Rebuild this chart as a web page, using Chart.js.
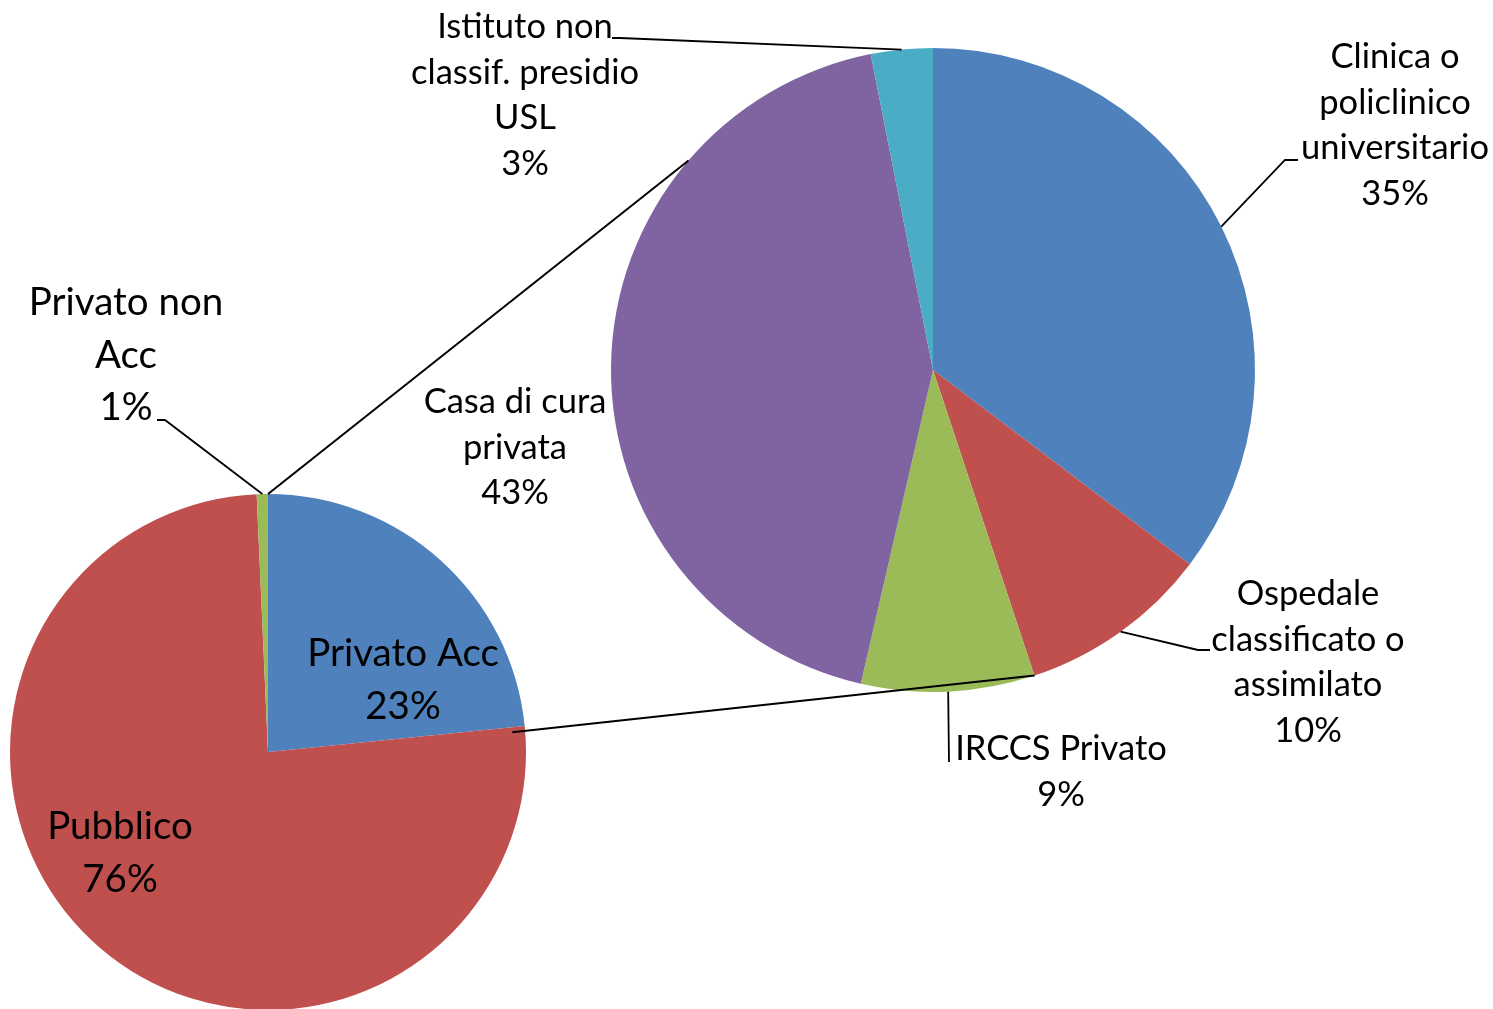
<!DOCTYPE html>
<html>
<head>
<meta charset="utf-8">
<script src="https://cdn.jsdelivr.net/npm/chart.js@4"></script>
<style>
  html, body { margin: 0; padding: 0; background: #fff; overflow: hidden; }
  #wrap { position: relative; width: 1493px; height: 1009px; overflow: hidden; }
  canvas { position: absolute; left: 0; top: 0; }
</style>
</head>
<body>
<div id="wrap">
  <canvas id="main" width="1493" height="1040"></canvas>
  <canvas id="detail" width="1493" height="1040"></canvas>
</div>
<script>
// main pie
const mainLabels = [['Privato Acc'], ['Pubblico'], ['Privato non', 'Acc']];
const mainValues = [23.4, 75.9, 0.7];
const mainColors = ['#4F81BD', '#C0504D', '#9BBB59'];

// secondary pie (breakdown of Privato Acc)
const detailLabels = [
  ['Clinica o', 'policlinico', 'universitario'],
  ['Ospedale', 'classificato o', 'assimilato'],
  ['IRCCS Privato'],
  ['Casa di cura', 'privata'],
  ['Istituto non', 'classif. presidio', 'USL'],
];
const detailValues = [35.3, 9.6, 8.7, 43.3, 3.1];
const detailColors = ['#4F81BD', '#C0504D', '#9BBB59', '#8064A2', '#4BACC6'];

const FONT = 'Lato, "Noto Sans", sans-serif';

// label placement, relative to each pie centre (style only)
const mainLayout = [
  { x: 135, y: -98 },
  { x: -148, y: 75 },
  { x: -142, y: -449, leader: [-103, -332, -111] },
];
const detailLayout = [
  { x: 462, y: -313, leader: [352, -210, 365] },
  { x: 375, y: 224, leader: [265, 280, 277] },
  { x: 128, y: 379, leader: [16, 392, 16] },
  { x: -418, y: 32 },
  { x: -408, y: -343, leader: [-313, -332, -321] },
];

const pct = (vals, i) => {
  const sum = vals.reduce((a, b) => a + b, 0);
  return Math.round(vals[i] / sum * 100) + '%';
};

const pieLabels = {
  id: 'pieLabels',
  afterDraw(chart, args, opts) {
    const ctx = chart.ctx;
    const arcs = chart.getDatasetMeta(0).data;
    const vals = chart.data.datasets[0].data;
    ctx.save();
    ctx.fillStyle = '#000';
    ctx.strokeStyle = '#000';
    ctx.lineWidth = 1.8;
    ctx.textAlign = 'center';
    ctx.textBaseline = 'middle';
    ctx.font = opts.size + 'px ' + FONT;
    arcs.forEach((arc, i) => {
      const lay = opts.layout[i];
      const cx = arc.x, cy = arc.y;
      if (lay.leader) {
        const mid = (arc.startAngle + arc.endAngle) / 2;
        const r = arc.outerRadius;
        ctx.beginPath();
        ctx.moveTo(cx + r * Math.cos(mid), cy + r * Math.sin(mid));
        ctx.lineTo(cx + lay.leader[0], cy + lay.leader[1]);
        ctx.lineTo(cx + lay.leader[2], cy + lay.leader[1]);
        ctx.stroke();
      }
      const lines = chart.data.labels[i].concat([pct(vals, i)]);
      lines.forEach((t, k) => {
        ctx.fillText(t, cx + lay.x, cy + lay.y + k * opts.lineHeight);
      });
    });
    ctx.restore();
  }
};

const baseOptions = (padding, labelOpts) => ({
  responsive: false,
  animation: false,
  layout: { padding: padding },
  plugins: {
    legend: { display: false },
    tooltip: { enabled: false },
    pieLabels: labelOpts,
  },
});

const mainChart = new Chart(document.getElementById('main'), {
  type: 'pie',
  data: {
    labels: mainLabels,
    datasets: [{ data: mainValues, backgroundColor: mainColors, borderWidth: 0 }],
  },
  options: baseOptions({ left: 10, right: 967, top: 494, bottom: 30 },
    { layout: mainLayout, size: 38.5, lineHeight: 52.5 }),
  plugins: [pieLabels],
});

// lines joining the split slice to the secondary pie
const connectorAngles = [-139.4, 71.6];
const connectors = {
  id: 'connectors',
  afterDraw(chart) {
    const ctx = chart.ctx;
    const src = mainChart.getDatasetMeta(0).data[0];
    const dst = chart.getDatasetMeta(0).data[0];
    const ends = [src.startAngle, src.endAngle + 0.02];
    const reach = [1, 0.95];
    ctx.save();
    ctx.strokeStyle = '#000';
    ctx.lineWidth = 2;
    ends.forEach((a, i) => {
      const b = connectorAngles[i] * Math.PI / 180;
      const r = src.outerRadius * reach[i];
      ctx.beginPath();
      ctx.moveTo(src.x + r * Math.cos(a), src.y + r * Math.sin(a));
      ctx.lineTo(dst.x + dst.outerRadius * Math.cos(b), dst.y + dst.outerRadius * Math.sin(b));
      ctx.stroke();
    });
    ctx.restore();
  }
};

new Chart(document.getElementById('detail'), {
  type: 'pie',
  data: {
    labels: detailLabels,
    datasets: [{ data: detailValues, backgroundColor: detailColors, borderWidth: 0 }],
  },
  options: baseOptions({ left: 611, right: 238, top: 48, bottom: 348 },
    { layout: detailLayout, size: 34.5, lineHeight: 45.5 }),
  plugins: [pieLabels, connectors],
});
</script>
</body>
</html>
